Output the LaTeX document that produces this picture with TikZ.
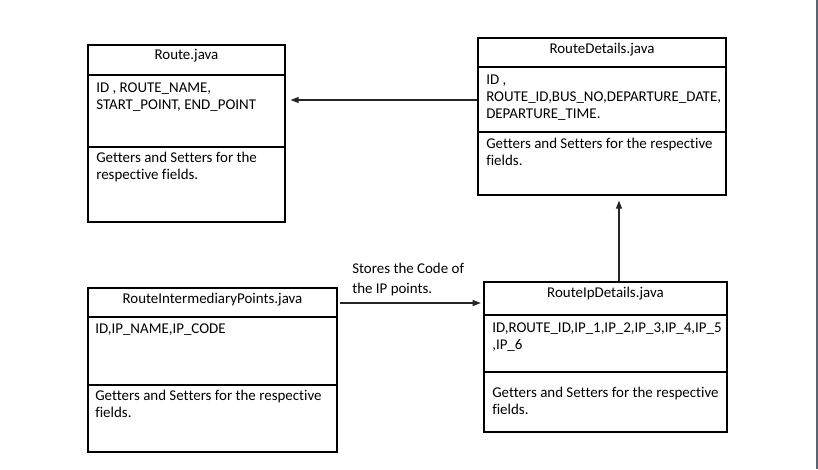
\documentclass[tikz,border=0pt]{standalone}
\usepackage{fontspec}
\setmainfont{Carlito}[Ligatures=NoCommon]
\usetikzlibrary{arrows.meta,fit}
\begin{document}
\begin{tikzpicture}[x=0.75pt,y=-0.75pt,
  box/.style={draw=black,line width=0.9pt,inner sep=0pt},
  divider/.style={draw=black,line width=0.9pt},
  txt/.style={anchor=base west,inner sep=0pt,font=\fontsize{11.2pt}{13pt}\selectfont},
  ttl/.style={anchor=base,inner sep=0pt,font=\fontsize{11.2pt}{13pt}\selectfont},
  arr/.style={draw=black!85,line width=0.8pt,-{Triangle[length=6pt,width=4.5pt]}}]
\useasboundingbox (0,0) rectangle (818,469);
\fill[white] (0,0) rectangle (818,469);
\fill[fill={rgb,255:red,90;green,100;blue,112}] (815.5,0) rectangle (818,469);

% Route.java
\node[box,fit={(88,45) (285,222)}] (route) {};
\draw[divider] (route.west |- 0,75) -- (route.east |- 0,75);
\draw[divider] (route.west |- 0,147) -- (route.east |- 0,147);
\node[ttl] (routeT) at (186.5,59) {Route.java};
\node[txt] (routeA1) at (96,92) {ID , ROUTE\_NAME,};
\node[txt] (routeA2) at (96,109) {START\_POINT, END\_POINT};
\node[txt] (routeG1) at (96,162) {Getters and Setters for the};
\node[txt] (routeG2) at (96,179) {respective fields.};

% RouteDetails.java
\node[box,fit={(478,38) (726,195)}] (rd) {};
\draw[divider] (rd.west |- 0,67) -- (rd.east |- 0,67);
\draw[divider] (rd.west |- 0,132) -- (rd.east |- 0,132);
\node[ttl] (rdT) at (602,53) {RouteDetails.java};
\node[txt] (rdA1) at (486,84) {ID ,};
\node[txt] (rdA2) at (486,101) {ROUTE\_ID,BUS\_NO,DEPARTURE\_DATE,};
\node[txt] (rdA3) at (486,118) {DEPARTURE\_TIME.};
\node[txt] (rdG1) at (486,148) {Getters and Setters for the respective};
\node[txt] (rdG2) at (486,165) {fields.};

% RouteIntermediaryPoints.java
\node[box,fit={(88,288) (337,452)}] (rip) {};
\draw[divider] (rip.west |- 0,317) -- (rip.east |- 0,317);
\draw[divider] (rip.west |- 0,385) -- (rip.east |- 0,385);
\node[ttl] (ripT) at (212.5,303) {RouteIntermediaryPoints.java};
\node[txt] (ripA1) at (95,333) {ID,IP\_NAME,IP\_CODE};
\node[txt] (ripG1) at (95,400) {Getters and Setters for the respective};
\node[txt] (ripG2) at (95,417) {fields.};

% RouteIpDetails.java
\node[box,fit={(484,282) (727,432)}] (ripd) {};
\draw[divider] (ripd.west |- 0,315) -- (ripd.east |- 0,315);
\draw[divider] (ripd.west |- 0,372) -- (ripd.east |- 0,372);
\node[ttl] (ripdT) at (605.5,297) {RouteIpDetails.java};
\node[txt] (ripdA1) at (492,332) {ID,ROUTE\_ID,IP\_1,IP\_2,IP\_3,IP\_4,IP\_5};
\node[txt] (ripdA2) at (492,349) {,IP\_6};
\node[txt] (ripdG1) at (492,397) {Getters and Setters for the respective};
\node[txt] (ripdG2) at (492,414) {fields.};

% label
\node[txt] (lbl1) at (352,273) {Stores the Code of};
\node[txt] (lbl2) at (352,293) {the IP points.};

% connectors
\coordinate (y1) at (0,100);
\coordinate (y2) at (0,303);
\coordinate (x3) at (619,0);
\draw[arr,shorten >=3.75pt] (rd.west |- y1) -- (route.east |- y1);
\draw[arr,shorten <=2pt,shorten >=2pt] (rip.east |- y2) -- (ripd.west |- y2);
\draw[arr,shorten >=3.75pt] (ripd.north -| x3) -- (rd.south -| x3);
\end{tikzpicture}
\end{document}
